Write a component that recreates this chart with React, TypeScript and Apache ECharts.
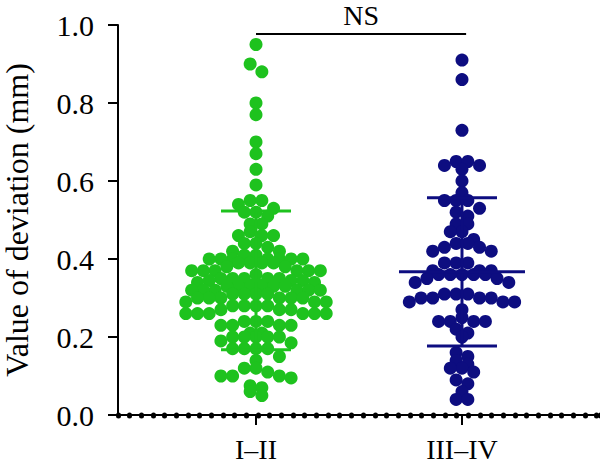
import React, { useEffect, useRef } from "react";
import * as echarts from "echarts";

// ---- data ----
const categories = ["I–II", "III–IV"];
const groupPositions = [1, 2];

const stageI_II = [
  0.95, 0.9, 0.88, 0.8, 0.77, 0.7, 0.67, 0.63, 0.59,
  0.55, 0.55, 0.54, 0.53, 0.52, 0.52, 0.51,
  0.49, 0.49, 0.47, 0.46, 0.46, 0.46, 0.44, 0.44, 0.43, 0.42, 0.42, 0.41,
  0.41, 0.4, 0.4, 0.4, 0.4, 0.4, 0.4, 0.4, 0.39, 0.39, 0.39, 0.39,
  0.38, 0.38, 0.37, 0.37, 0.37, 0.37, 0.37, 0.37, 0.36,
  0.35, 0.35, 0.35, 0.35, 0.35, 0.345, 0.345, 0.345, 0.34, 0.34,
  0.33, 0.33, 0.33, 0.33, 0.33, 0.33, 0.32, 0.32, 0.32, 0.32, 0.32, 0.32,
  0.31, 0.31, 0.31, 0.31, 0.3, 0.3, 0.3, 0.3, 0.3, 0.3,
  0.29, 0.29, 0.29, 0.28, 0.28, 0.28, 0.28,
  0.27, 0.27, 0.27, 0.26, 0.26, 0.26, 0.26, 0.26, 0.26,
  0.24, 0.24, 0.24, 0.23, 0.23, 0.23, 0.23,
  0.21, 0.21, 0.2, 0.2, 0.2, 0.2, 0.2,
  0.19, 0.185, 0.17, 0.17, 0.17, 0.17,
  0.15, 0.14,
  0.12, 0.12, 0.11,
  0.1, 0.1, 0.1, 0.095,
  0.075, 0.07, 0.06,
  0.05,
];

const stageIII_IV = [
  0.91, 0.86, 0.73,
  0.65, 0.65, 0.64, 0.64, 0.63, 0.6, 0.57,
  0.55, 0.55, 0.55, 0.53, 0.52, 0.51, 0.49, 0.49, 0.47, 0.47,
  0.45, 0.44, 0.44, 0.43, 0.43, 0.42, 0.42,
  0.39, 0.39, 0.39,
  0.37, 0.37, 0.37, 0.36, 0.36, 0.36, 0.36, 0.36, 0.35, 0.35, 0.34, 0.34,
  0.31, 0.31, 0.31, 0.3, 0.3, 0.3, 0.3, 0.29, 0.29, 0.29,
  0.27, 0.25, 0.24, 0.24, 0.24, 0.24, 0.22, 0.21, 0.2,
  0.16, 0.15, 0.14, 0.13, 0.12, 0.12, 0.11, 0.09, 0.08, 0.06, 0.04, 0.04,
];

const groupMeans = [0.345, 0.367];
const groupSDs = [0.178, 0.19];

const bracketEnds = [1, 2.02];
const bracketLevel = 0.977;
const bracketLabel = "NS";

const yTickMin = 0;
const yTickMax = 1;
const yTickStep = 0.2;

// ---- layout / style ----
const W = 600;
const H = 464;
const GRID = { left: 118, right: 0, top: 25, bottom: 49 };
const X_MIN = 0.33;
const X_MAX = 2.67;
const COLORS = ["#1ec21e", "#0d0d80"];
const DOT = 13;
const DOT_SPACING = 11.7; // px between neighbours in a row
const ROW_BIN = 0.027; // value units per row (Prism-style binning)
const FONT = "'Liberation Serif', 'DejaVu Serif', serif";

// Prism-like scatter layout: bin values into rows, centre each row's dots
function rowOffsets(values: number[], pxPerX: number): number[] {
  const bins = new Map<number, number[]>();
  values.forEach((v, i) => {
    const b = Math.round(Math.round((v / ROW_BIN) * 1000) / 1000);
    if (!bins.has(b)) bins.set(b, []);
    bins.get(b)!.push(i);
  });
  const out = new Array(values.length).fill(0);
  bins.forEach((idx) => {
    const n = idx.length;
    const slots = Array.from({ length: n }, (_, k) => k - (n - 1) / 2).sort(
      (a, b) => Math.abs(a) - Math.abs(b) || a - b
    );
    idx.forEach((i, k) => {
      out[i] = (slots[k] * DOT_SPACING) / pxPerX;
    });
  });
  return out;
}

export default function App() {
  const ref = useRef<HTMLDivElement>(null);

  useEffect(() => {
    document.body.style.margin = "0";
    if (!ref.current) return;
    const chart = echarts.init(ref.current, undefined, { renderer: "svg" });

    const plotW = W - GRID.left - GRID.right;
    const pxPerX = plotW / (X_MAX - X_MIN);

    const groups = [stageI_II, stageIII_IV];
    const scatterSeries = groups.map((vals, gi) => {
      const offs = rowOffsets(vals, pxPerX);
      return {
        type: "scatter",
        name: categories[gi],
        xAxisIndex: 0,
        symbol: "circle",
        symbolSize: DOT,
        itemStyle: { color: COLORS[gi], opacity: 1 },
        data: vals.map((v, i) => [groupPositions[gi] + offs[i], v]),
        z: 2,
      };
    });

    const option: any = {
      animation: false,
      backgroundColor: "#fff",
      grid: { ...GRID, containLabel: false, outerBoundsMode: "none" },
      xAxis: [
        {
          type: "value",
          min: X_MIN,
          max: X_MAX,
          axisLine: { show: true, lineStyle: { color: "#000", width: 2 } },
          axisTick: {
            show: true,
            length: 10,
            customValues: groupPositions,
            lineStyle: { color: "#000", width: 2 },
          },
          axisLabel: {
            show: true,
            customValues: groupPositions,
            formatter: (v: number) => categories[groupPositions.indexOf(v)] ?? "",
            color: "#000",
            fontSize: 28,
            lineHeight: 28,
            fontFamily: FONT,
            margin: 20,
          },
          splitLine: { show: false },
        },
        {
          type: "value",
          position: "bottom",
          min: 0,
          max: 41.3,
          interval: 1,
          axisLine: { show: false },
          axisTick: {
            show: true,
            length: 1,
            lineStyle: { color: "#000", width: 5, cap: "round" },
          },
          axisLabel: { show: false },
          splitLine: { show: false },
        },
      ],
      yAxis: {
        type: "value",
        min: yTickMin,
        max: yTickMax,
        interval: yTickStep,
        name: "Value of deviation (mm)",
        nameLocation: "middle",
        nameGap: 85,
        nameTextStyle: { color: "#000", fontSize: 32, lineHeight: 32, fontFamily: FONT },
        axisLine: { show: true, lineStyle: { color: "#000", width: 2 } },
        axisTick: { show: true, length: 10, lineStyle: { color: "#000", width: 2 } },
        axisLabel: {
          color: "#000",
          fontSize: 30,
          fontFamily: FONT,
          margin: 24,
          formatter: (v: number) => v.toFixed(1),
        },
        splitLine: { show: false },
      },
      series: [
        ...scatterSeries,
        {
          type: "custom",
          xAxisIndex: 0,
          data: groupPositions.map((p, i) => [p, groupMeans[i], groupSDs[i], i]),
          encode: { x: 0, y: 1 },
          z: 3,
          renderItem: (_params: any, api: any) => {
            const x = api.value(0);
            const m = api.value(1);
            const s = api.value(2);
            const idx = api.value(3);
            const top = api.coord([x, m + s]);
            const mid = api.coord([x, m]);
            const bot = api.coord([x, m - s]);
            const style = { stroke: COLORS[idx], lineWidth: 3 };
            return {
              type: "group",
              children: [
                { type: "line", shape: { x1: top[0], y1: top[1], x2: bot[0], y2: bot[1] }, style },
                { type: "line", shape: { x1: mid[0] - 63, y1: mid[1], x2: mid[0] + 63, y2: mid[1] }, style },
                { type: "line", shape: { x1: top[0] - 35, y1: top[1], x2: top[0] + 35, y2: top[1] }, style },
                { type: "line", shape: { x1: bot[0] - 35, y1: bot[1], x2: bot[0] + 35, y2: bot[1] }, style },
              ],
            };
          },
        },
        {
          type: "custom",
          xAxisIndex: 0,
          data: [[bracketEnds[0], bracketEnds[1], bracketLevel]],
          encode: { x: [0, 1], y: 2 },
          z: 4,
          clip: false,
          renderItem: (_params: any, api: any) => {
            const a = api.coord([api.value(0), api.value(2)]);
            const b = api.coord([api.value(1), api.value(2)]);
            return {
              type: "group",
              children: [
                {
                  type: "line",
                  shape: { x1: a[0], y1: a[1], x2: b[0], y2: b[1] },
                  style: { stroke: "#000", lineWidth: 2 },
                },
                {
                  type: "text",
                  style: {
                    text: bracketLabel,
                    x: (a[0] + b[0]) / 2,
                    y: a[1] - 18,
                    align: "center",
                    verticalAlign: "middle",
                    lineHeight: 26,
                    fontSize: 28,
                    fontFamily: FONT,
                    fill: "#000",
                  },
                },
              ],
            };
          },
        },
      ],
    };

    chart.setOption(option);
    return () => chart.dispose();
  }, []);

  return <div ref={ref} style={{ width: W, height: H }} />;
}
